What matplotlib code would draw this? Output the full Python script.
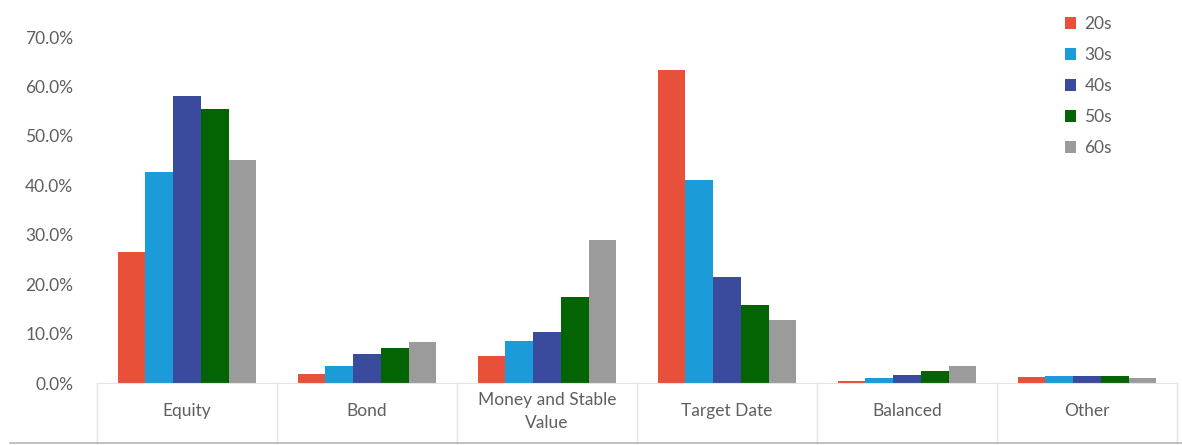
import matplotlib
matplotlib.use("Agg")
import matplotlib.pyplot as plt
import matplotlib.transforms as mtransforms
from matplotlib.patches import Patch
import numpy as np

plt.rcParams["font.family"] = ["Lato", "DejaVu Sans"]

categories = ["Equity", "Bond", "Money and Stable\nValue", "Target Date", "Balanced", "Other"]
series_names = ["20s", "30s", "40s", "50s", "60s"]
colors = ["#e8503a", "#1b9bd7", "#3a4b9e", "#046404", "#9b9b9b"]

# values in percent, per age group, in category order
v20s = [26.5, 1.8, 5.5, 63.4, 0.4, 1.3]
v30s = [42.7, 3.4, 8.5, 41.1, 1.0, 1.5]
v40s = [58.1, 5.9, 10.3, 21.5, 1.6, 1.5]
v50s = [55.5, 7.1, 17.4, 15.8, 2.4, 1.4]
v60s = [45.1, 8.3, 29.0, 12.8, 3.4, 1.1]
values = [v20s, v30s, v40s, v50s, v60s]

text_color = "#5f5f5f"

fig = plt.figure(figsize=(11.82, 4.45), dpi=100)
ax = fig.add_axes([97 / 1182, 62 / 445, 1080 / 1182, 373 / 445])

x = np.arange(len(categories))
width = 0.154
for i, (name, vals) in enumerate(zip(series_names, values)):
    ax.bar(x + (i - 2) * width, vals, width, color=colors[i], label=name)

ax.set_xlim(-0.5, len(categories) - 0.5)
ax.set_ylim(0, 75.5)
ax.set_yticks(np.arange(0, 71, 10))
ax.set_yticklabels([f"{t:.1f}%" for t in np.arange(0, 71, 10)])
ax.tick_params(axis="y", length=0, pad=17, labelsize=12.5, labelcolor=text_color)
ax.set_xticks([])

for s in ["top", "right", "left"]:
    ax.spines[s].set_visible(False)
ax.spines["bottom"].set_color("#e4e4e4")

# category labels and the box dividers under the axis
trans = mtransforms.blended_transform_factory(ax.transData, ax.transAxes)
for i, cat in enumerate(categories):
    ax.text(i, -0.076, cat, transform=trans, ha="center", va="center",
            fontsize=12.5, color=text_color, linespacing=1.55)
for b in np.arange(-0.5, len(categories), 1.0):
    ax.plot([b, b], [0, -0.161], transform=trans, color="#e4e4e4", lw=1, clip_on=False)

fig.add_artist(plt.Line2D([10 / 1182, 1], [2.5 / 445, 2.5 / 445], color="#b5b5b5", lw=1.2))

handles = [Patch(facecolor=c, edgecolor="none") for c in colors]
leg = ax.legend(handles, series_names, loc="upper left", bbox_to_anchor=(0.882, 1.025),
                frameon=False, fontsize=12.5, handlelength=0.65, handleheight=0.65,
                handletextpad=0.45, labelspacing=0.86, labelcolor=text_color)

fig.savefig("out.png", dpi=100)
